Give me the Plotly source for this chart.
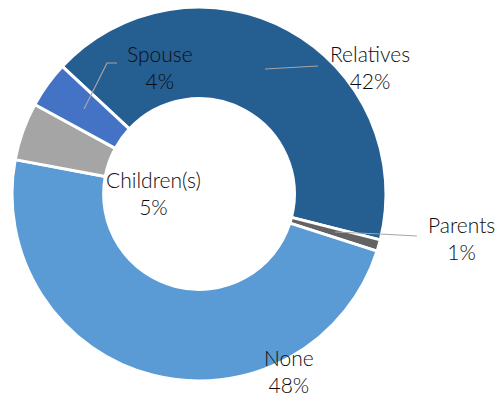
import plotly.graph_objects as go

# Household relationship shares (percent)
labels = ["Relatives", "Parents", "None", "Children(s)", "Spouse"]
values = [42, 1, 48, 5, 4]
colors = ["#255E91", "#636363", "#5B9BD5", "#A5A5A5", "#4472C4"]

W, H = 499, 396
CX, CY, R = 199, 194, 187  # donut centre and outer radius in px


def px_x(x):
    return x / W


def px_y(y):
    return 1 - y / H


fig = go.Figure()
fig.add_trace(go.Pie(
    labels=labels,
    values=values,
    hole=0.51,
    sort=False,
    direction="clockwise",
    rotation=-47,
    marker=dict(colors=colors, line=dict(color="white", width=3)),
    textinfo="none",
    hoverinfo="label+percent",
    showlegend=False,
    domain=dict(x=[px_x(CX - R), px_x(CX + R)], y=[px_y(CY + R), px_y(CY - R)]),
))

# label placement (px) for each category
label_pos = {
    "Relatives": (370, 67),
    "Parents": (461, 238),
    "None": (289, 371),
    "Children(s)": (153, 193),
    "Spouse": (160, 67),
}
for lab, val in zip(labels, values):
    x, y = label_pos[lab]
    fig.add_annotation(
        x=px_x(x), y=px_y(y), xref="paper", yref="paper",
        text=f"{lab}<br>{val}%", showarrow=False,
        xanchor="center", yanchor="middle",
        font=dict(family="Lato, Carlito, sans-serif", size=21, color="#0d0d0d",
                  weight=300),
        align="center",
    )

# leader lines
leaders = [
    [(117, 63), (107, 63), (84, 109)],
    [(318, 66), (265, 69)],
    [(417, 236), (380, 234), (335, 232)],
]
for pts in leaders:
    path = "M " + " L ".join(f"{px_x(x):.5f},{px_y(y):.5f}" for x, y in pts)
    fig.add_shape(type="path", path=path, xref="paper", yref="paper",
                  line=dict(color="#A6A6A6", width=1.2))

fig.update_layout(
    width=W, height=H,
    margin=dict(l=0, r=0, t=0, b=0),
    paper_bgcolor="white",
    plot_bgcolor="white",
)

fig.write_html("out.html")
